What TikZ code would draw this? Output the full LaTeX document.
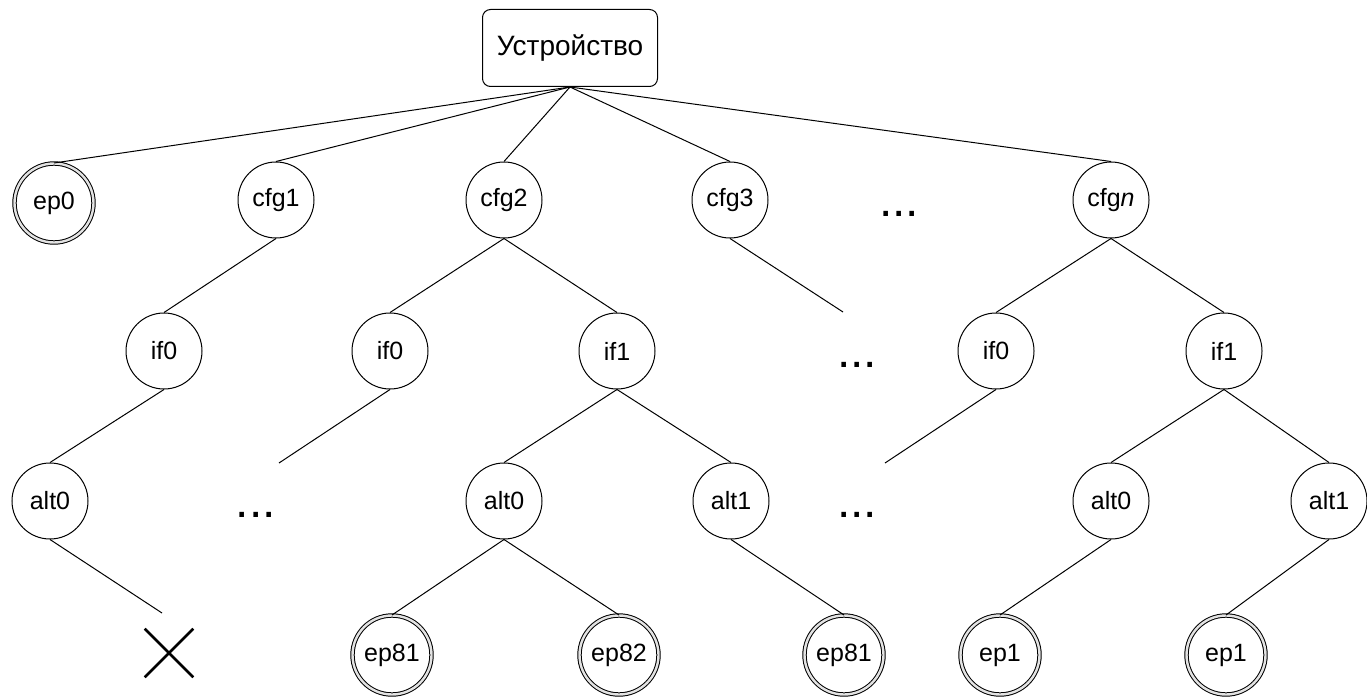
\documentclass[tikz,border=0pt]{standalone}
\usepackage{fontspec}
\setmainfont{Liberation Sans}
\usetikzlibrary{shapes.misc}
\begin{document}
\begin{tikzpicture}[x=1pt,y=-1pt,
  every node/.style={font=\fontsize{25}{29}\selectfont},
  cnode/.style={circle,draw,line width=1pt,minimum size=76pt,inner sep=0pt},
  dnode/.style={circle,draw,line width=1pt,double=gray!22,double distance=2.4pt,minimum size=79pt,inner sep=0pt},
  rootbox/.style={draw,rounded corners=8pt,line width=1pt,minimum width=175pt,minimum height=77pt,font=\fontsize{28}{31}\selectfont},
  dotsnode/.style={font=\fontsize{48}{48}\selectfont,inner sep=0pt,anchor=base},
  link/.style={line width=1pt}]
\useasboundingbox (0,0) rectangle (1367,698);
% root
\node[rootbox] (root) at (570,48) {Устройство};
% level 1
\node[dnode] (ep0) at (54,203) {ep0};
\node[cnode] (cfg1) at (276,200) {cfg1};
\node[cnode] (cfg2) at (504,200) {cfg2};
\node[cnode] (cfg3) at (730,200) {cfg3};
\node[dotsnode] (d1) at (899,216) {...};
\node[cnode] (cfgn) at (1111,200) {cfg{\itshape n}};
% level 2
\node[cnode] (ifa) at (164,351) {if0};
\node[cnode] (ifb) at (390,351) {if0};
\node[cnode] (ifc) at (617,351) {if1};
\node[dotsnode] (d2) at (857,367) {...};
\node[cnode] (ifd) at (996,351) {if0};
\node[cnode] (ife) at (1224,351) {if1};
% level 3
\node[cnode] (alta) at (50,501) {alt0};
\node[dotsnode] (d3) at (256,517) {...};
\node[cnode] (altb) at (504,501) {alt0};
\node[cnode] (altc) at (731,501) {alt1};
\node[dotsnode] (d4) at (857,517) {...};
\node[cnode] (altd) at (1111,501) {alt0};
\node[cnode] (alte) at (1329,501) {alt1};
% level 4
\node[cross out,draw,line width=2.6pt,minimum size=46pt,inner sep=0pt] (xx) at (169,653) {};
\node[dnode] (epa) at (392,655) {ep81};
\node[dnode] (epb) at (619,655) {ep82};
\node[dnode] (epc) at (844,655) {ep81};
\node[dnode] (epd) at (1000,655) {ep1};
\node[dnode] (epe) at (1226,655) {ep1};
% dangling ends
\coordinate (c3end) at (843,312);
\coordinate (ifbend) at (279,463);
\coordinate (ifdend) at (885,463);
\coordinate (altaend) at (162,613);
% edges
\draw[link] (root.south) -- (ep0.north);
\draw[link] (root.south) -- (cfg1.north);
\draw[link] (root.south) -- (cfg2.north);
\draw[link] (root.south) -- (cfg3.north);
\draw[link] (root.south) -- (cfgn.north);
\draw[link] (cfg1.south) -- (ifa.north);
\draw[link] (ifa.south) -- (alta.north);
\draw[link] (alta.south) -- (altaend);
\draw[link] (cfg2.south) -- (ifb.north);
\draw[link] (cfg2.south) -- (ifc.north);
\draw[link] (ifb.south) -- (ifbend);
\draw[link] (ifc.south) -- (altb.north);
\draw[link] (ifc.south) -- (altc.north);
\draw[link] (altb.south) -- (epa.north);
\draw[link] (altb.south) -- (epb.north);
\draw[link] (altc.south) -- (epc.north);
\draw[link] (cfg3.south) -- (c3end);
\draw[link] (cfgn.south) -- (ifd.north);
\draw[link] (cfgn.south) -- (ife.north);
\draw[link] (ifd.south) -- (ifdend);
\draw[link] (ife.south) -- (altd.north);
\draw[link] (ife.south) -- (alte.north);
\draw[link] (altd.south) -- (epd.north);
\draw[link] (alte.south) -- (epe.north);
\end{tikzpicture}
\end{document}
